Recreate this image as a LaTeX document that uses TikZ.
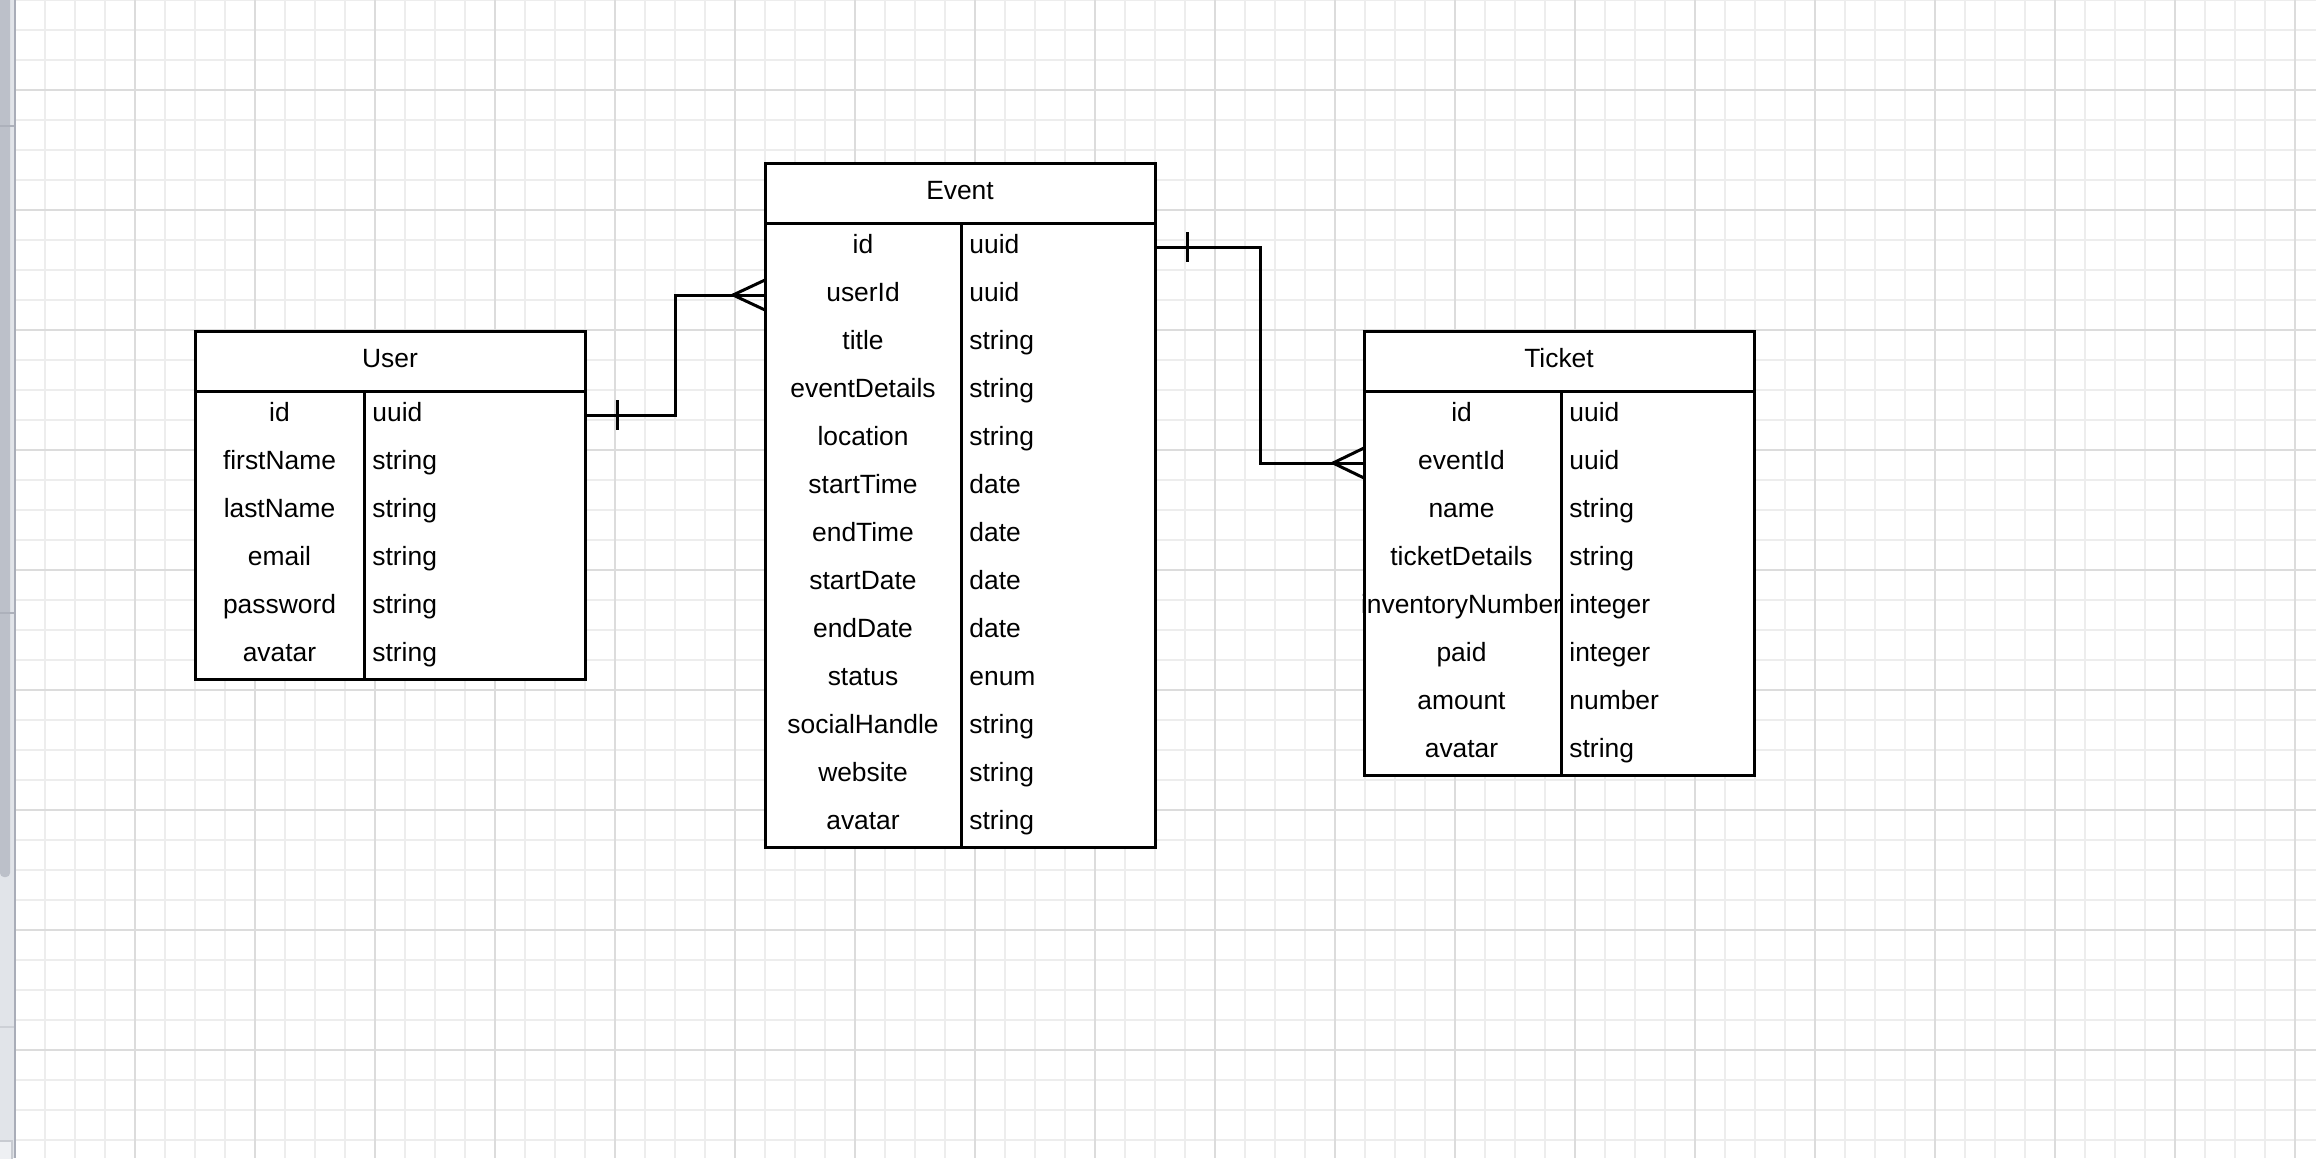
\documentclass[tikz,border=0pt]{standalone}
\usepackage{fontspec}
\setmainfont{Liberation Sans}
\definecolor{thumb}{HTML}{BCC0C9}
\definecolor{track}{HTML}{E1E4E9}
\definecolor{sideline}{HTML}{A9ADB8}
\definecolor{sidemark}{HTML}{ADB1BB}
\definecolor{tracemark}{HTML}{CDD0D6}
\definecolor{panelfill}{HTML}{EEF0F3}
\definecolor{panelline}{HTML}{C8CBD1}
\definecolor{gridminor}{HTML}{EDEDED}
\definecolor{gridmajor}{HTML}{DCDCDC}
\begin{document}
\begin{tikzpicture}[x=0.5pt,y=-0.5pt,
  gminor/.style={draw=gridminor,line width=0.6pt},
  gmajor/.style={draw=gridmajor,line width=0.6pt},
  tbl/.style={draw=black,line width=1.5pt},
  conn/.style={draw=black,line width=1.5pt},
  rowbox/.style={inner sep=0pt,outer sep=0pt,minimum width=195pt,minimum height=24pt},
  fname/.style={anchor=base,inner sep=0pt,font=\fontsize{13.2pt}{16pt}\selectfont},
  ftype/.style={anchor=base west,inner sep=0pt,font=\fontsize{13.2pt}{16pt}\selectfont}]
\useasboundingbox (0,0) rectangle (2316,1158);
\fill[white] (0,0) rectangle (2316,1158);
% grid
\foreach \x in {15,45,...,2315} \draw[gminor] (\x,0) -- (\x,1158);
\foreach \y in {0,30,...,1150} \draw[gminor] (16,\y) -- (2316,\y);
\foreach \x in {135,255,...,2295} \draw[gmajor] (\x,0) -- (\x,1158);
\foreach \y in {90,210,...,1050} \draw[gmajor] (16,\y) -- (2316,\y);
% side bar
\fill[track] (0,0) rectangle (14,1158);
\fill[thumb] (0,0) -- (10,0) [rounded corners=2pt] -- (10,877) -- (0,877) [sharp corners] -- cycle;
\fill[sideline] (14,0) rectangle (16,1158);
\draw[sidemark,line width=1pt] (0,126) -- (14,126);
\draw[sidemark,line width=1pt] (0,613) -- (14,613);
\draw[tracemark,line width=1pt] (0,1027) -- (14,1027);
\draw[fill=panelfill,draw=panelline,line width=0.8pt] (-2,1141) rectangle (12,1160);

% ---------------- User
\draw[tbl,fill=white] (195,331) rectangle (585,679);
\draw[tbl] (195,391) -- (585,391);
\draw[tbl] (364,391) -- (364,679);
\node[fname] (utitle) at (390,367) {User};
\foreach [count=\i] \n/\t in {id/uuid,firstName/string,lastName/string,email/string,password/string,avatar/string}{
  \node[rowbox] (u\i) at (390,{391+48*\i-24}) {};
  \node[fname] (un\i) at (279.5,{391+48*\i-18}) {\n};
  \node[ftype] (ut\i) at (372,{391+48*\i-18}) {\t};
}

% ---------------- Event
\draw[tbl,fill=white] (765,163) rectangle (1155,847);
\draw[tbl] (765,223) -- (1155,223);
\draw[tbl] (961,223) -- (961,847);
\node[fname] (etitle) at (960,199) {Event};
\foreach [count=\i] \n/\t in {id/uuid,userId/uuid,title/string,eventDetails/string,location/string,startTime/date,endTime/date,startDate/date,endDate/date,status/enum,socialHandle/string,website/string,avatar/string}{
  \node[rowbox] (e\i) at (960,{223+48*\i-24}) {};
  \node[fname] (en\i) at (863,{223+48*\i-18}) {\n};
  \node[ftype] (et\i) at (969,{223+48*\i-18}) {\t};
}

% ---------------- Ticket
\draw[tbl,fill=white] (1364,331) rectangle (1754,775);
\draw[tbl] (1364,391) -- (1754,391);
\draw[tbl] (1561,391) -- (1561,775);
\node[fname] (ttitle) at (1559,367) {Ticket};
\foreach [count=\i] \n/\t in {id/uuid,eventId/uuid,name/string,ticketDetails/string,inventoryNumber/integer,paid/integer,amount/number,avatar/string}{
  \node[rowbox] (t\i) at (1559,{391+48*\i-24}) {};
  \node[fname] (tn\i) at (1461.5,{391+48*\i-18}) {\n};
  \node[ftype] (tt\i) at (1569,{391+48*\i-18}) {\t};
}

% ---------------- connectors
% User.id -> Event.userId (one to many)
\draw[conn] (u1.east) -- ++(90,0) |- (e2.west);
\draw[conn] ([xshift=16pt,yshift=7.5pt]u1.east) -- ([xshift=16pt,yshift=-7.5pt]u1.east);
\draw[conn] ([yshift=7.5pt]e2.west) -- ([xshift=-16pt]e2.west) -- ([yshift=-7.5pt]e2.west);
% Event.id -> Ticket.eventId (one to many)
\draw[conn] (e1.east) -- ++(105,0) |- (t2.west);
\draw[conn] ([xshift=16pt,yshift=7.5pt]e1.east) -- ([xshift=16pt,yshift=-7.5pt]e1.east);
\draw[conn] ([yshift=7.5pt]t2.west) -- ([xshift=-15.5pt]t2.west) -- ([yshift=-7.5pt]t2.west);
\end{tikzpicture}
\end{document}
